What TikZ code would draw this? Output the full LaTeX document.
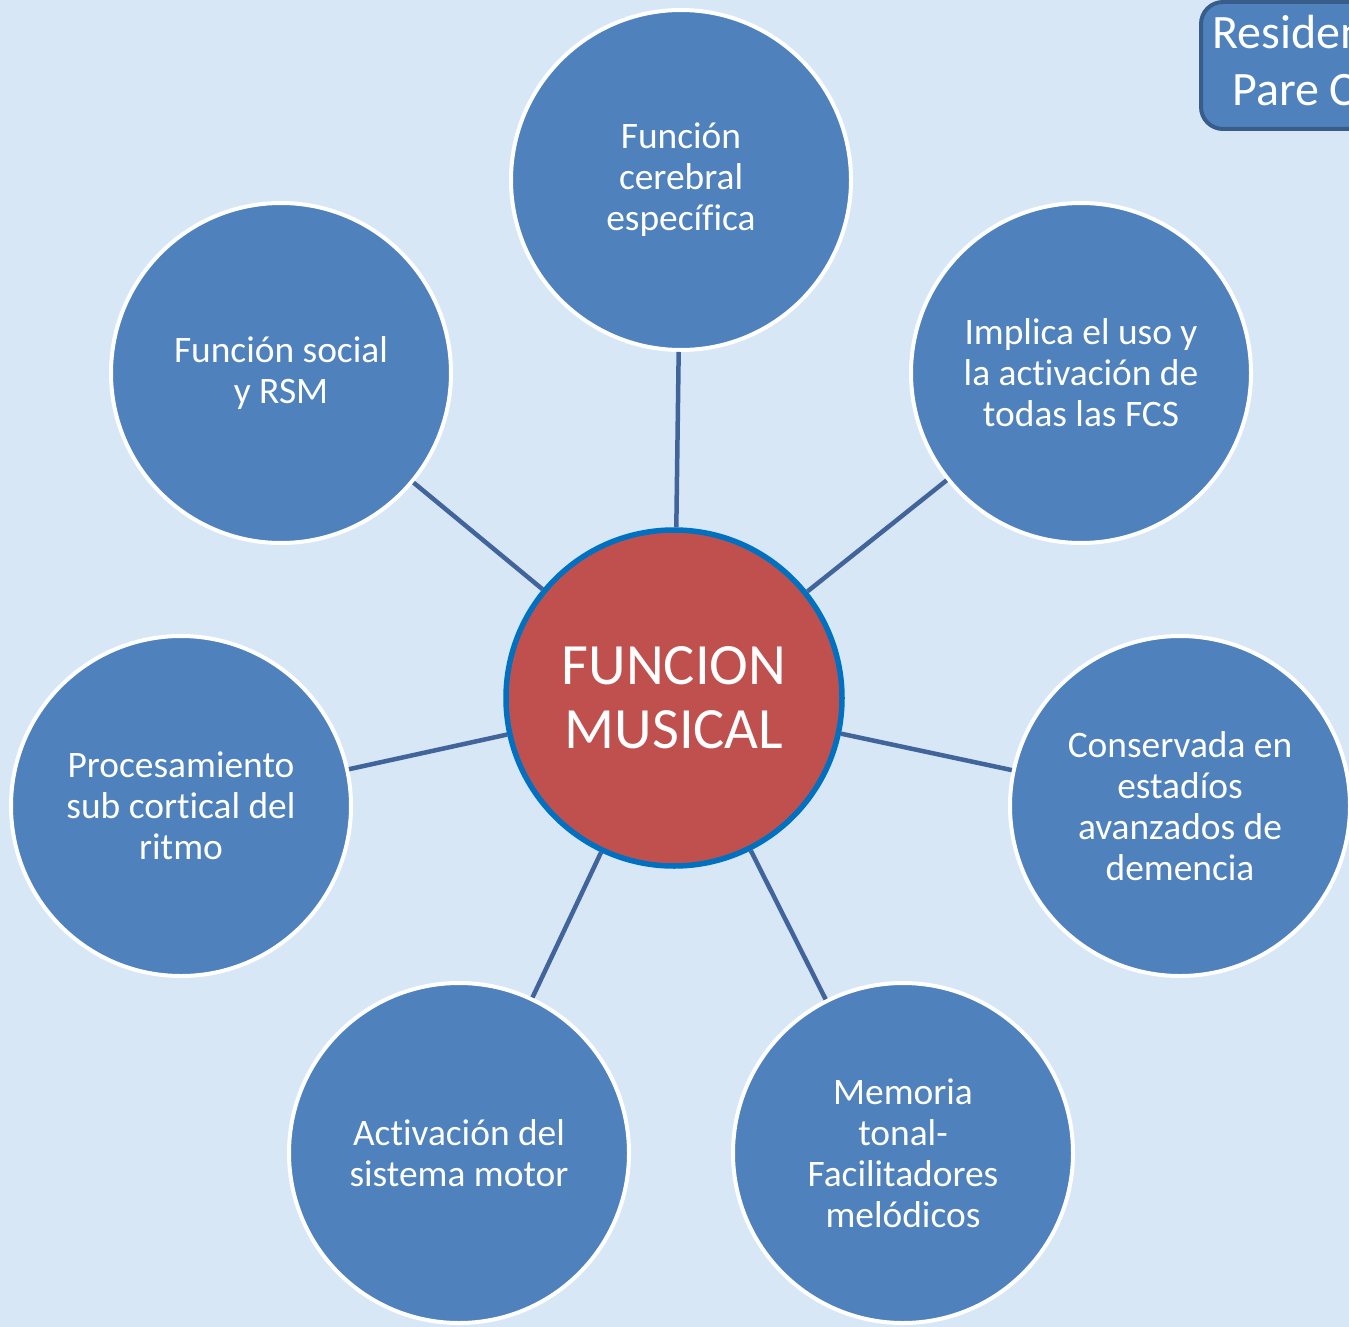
\documentclass[tikz,border=0pt]{standalone}
\usepackage{fontspec}
\setmainfont{Carlito}[Ligatures=CommonOff]
\usetikzlibrary{positioning}
\definecolor{bgblue}{HTML}{D8E7F6}
\definecolor{nodeblue}{HTML}{4F81BD}
\definecolor{corered}{HTML}{C0504D}
\definecolor{ringblue}{HTML}{0070C0}
\definecolor{linkblue}{HTML}{41659A}
\definecolor{boxedge}{HTML}{385D8A}
\tikzstyle{idea} = [circle, draw=white, line width=4pt, fill=nodeblue, text=white, minimum size=340pt, inner sep=0pt, align=center, font=\fontsize{37.4}{41}\selectfont]
\tikzstyle{core} = [circle, draw=ringblue, line width=5.5pt, fill=corered, text=white, minimum size=336pt, inner sep=0pt, align=center, font=\fontsize{58.5}{64}\selectfont]
\tikzstyle{link} = [linkblue, line width=4.5pt]
\tikzstyle{boxtext} = [text=white, inner sep=0pt, anchor=base west, font=\fontsize{48}{57}\selectfont]

\begin{document}
\begin{tikzpicture}[x=1pt, y=-1pt]
  \useasboundingbox (0,0) rectangle (1349,1327);
  \clip (0,0) rectangle (1349,1327);
  \fill[bgblue] (0,0) rectangle (1349,1327);

  % corner box
  \draw[boxedge, line width=4pt, fill=nodeblue, rounded corners=22pt] (1201,2) rectangle (1420,129);
  \node[boxtext] (res1) at (1212,49) {Residencia};
  \node[boxtext] (res2) at (1232,106) {Pare Claret};

  % centre
  \node[core] (fm) at (674,698) {FUNCION\\MUSICAL};

  % satellites
  \node[idea] (cer) at (681,180) {Función\\cerebral\\específica};
  \node[idea] (fcs) at (1081,373) {Implica el uso y\\la activación de\\todas las FCS};
  \node[idea] (dem) at (1180,806) {Conservada en\\estadíos\\avanzados de\\demencia};
  \node[idea] (mel) at (903,1153) {Memoria\\tonal-\\Facilitadores\\melódicos};
  \node[idea] (mot) at (459,1153) {Activación del\\sistema motor};
  \node[idea] (rit) at (181,806) {Procesamiento\\sub cortical del\\ritmo};
  \node[idea] (soc) at (281,373) {Función social\\y RSM};

  \foreach \n in {cer,fcs,dem,mel,mot,rit,soc}
    \draw[link] (fm) -- (\n);

\end{tikzpicture}
\end{document}
